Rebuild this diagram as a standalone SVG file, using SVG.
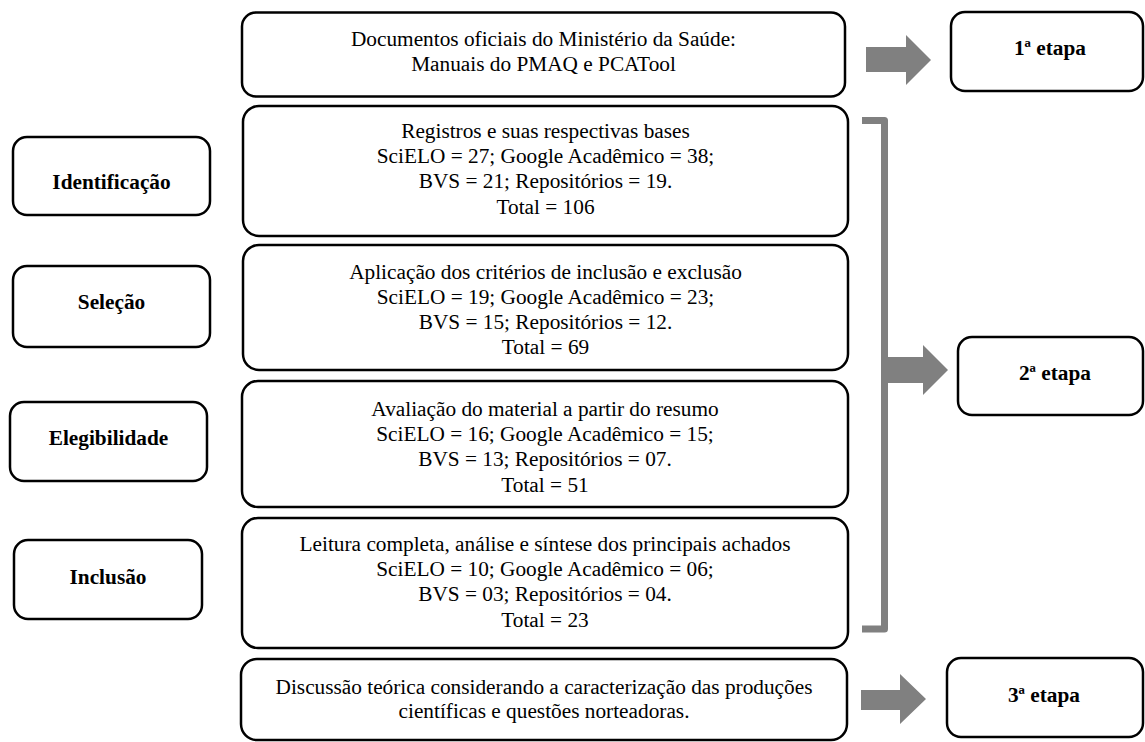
<svg xmlns="http://www.w3.org/2000/svg" width="1145" height="742" viewBox="0 0 1145 742">
<style>
.box{fill:#fff;stroke:#000;stroke-width:2.5}
.t{font-family:"Liberation Serif","Times New Roman",serif;font-size:21.3px;fill:#000;text-anchor:middle}
.b{font-weight:bold}
.arr{fill:#808080}
.br{fill:none;stroke:#808080;stroke-width:7;stroke-linejoin:round}
</style>
<rect width="1145" height="742" fill="#fff"/>
<g id="connectors">
<polygon class="arr" points="866,47 906,47 906,35 931,60 906,85 906,72 866,72"/>
<path class="br" d="M862,120.5 H884.5 V629 H862"/>
<polygon class="arr" points="888,357 923,357 923,345 948,370 923,395 923,383 888,383"/>
<polygon class="arr" points="861,690 900,690 900,674 926,699 900,724 900,710 861,710"/>
</g>
<g id="n-docs"><rect class="box" x="242" y="12.5" width="603" height="84" rx="14"/>
<text class="t" x="543.5" y="45.5">Documentos oficiais do Ministério da Saúde:</text>
<text class="t" x="543.5" y="70.5">Manuais do PMAQ e PCATool</text></g>
<g id="n-etapa1"><rect class="box" x="951" y="12" width="192" height="79" rx="14"/>
<text class="t b" x="1050" y="55">1ª etapa</text></g>
<g id="n-identificacao"><rect class="box" x="13" y="137" width="197" height="78" rx="14"/>
<text class="t b" x="111.5" y="189">Identificação</text></g>
<g id="n-registros"><rect class="box" x="243" y="106" width="605" height="130" rx="16"/>
<text class="t" x="545.5" y="138">Registros e suas respectivas bases</text>
<text class="t" x="545.5" y="163.2">SciELO = 27; Google Acadêmico = 38;</text>
<text class="t" x="545.5" y="188.4">BVS = 21; Repositórios = 19.</text>
<text class="t" x="545.5" y="213.6">Total = 106</text></g>
<g id="n-selecao"><rect class="box" x="13" y="266" width="197" height="81" rx="14"/>
<text class="t b" x="111.5" y="309">Seleção</text></g>
<g id="n-aplicacao"><rect class="box" x="243" y="245" width="605" height="125" rx="16"/>
<text class="t" x="545.5" y="278.5">Aplicação dos critérios de inclusão e exclusão</text>
<text class="t" x="545.5" y="303.7">SciELO = 19; Google Acadêmico = 23;</text>
<text class="t" x="545.5" y="328.9">BVS = 15; Repositórios = 12.</text>
<text class="t" x="545.5" y="354.1">Total = 69</text></g>
<g id="n-etapa2"><rect class="box" x="958" y="337" width="185" height="78" rx="14"/>
<text class="t b" x="1055" y="380">2ª etapa</text></g>
<g id="n-elegibilidade"><rect class="box" x="10" y="402" width="197" height="79" rx="14"/>
<text class="t b" x="108.5" y="445">Elegibilidade</text></g>
<g id="n-avaliacao"><rect class="box" x="242" y="381" width="606" height="126" rx="16"/>
<text class="t" x="545" y="416">Avaliação do material a partir do resumo</text>
<text class="t" x="545" y="441.2">SciELO = 16; Google Acadêmico = 15;</text>
<text class="t" x="545" y="466.4">BVS = 13; Repositórios = 07.</text>
<text class="t" x="545" y="491.6">Total = 51</text></g>
<g id="n-inclusao"><rect class="box" x="14" y="540" width="188" height="79" rx="14"/>
<text class="t b" x="108" y="584">Inclusão</text></g>
<g id="n-leitura"><rect class="box" x="242" y="518" width="606" height="130" rx="16"/>
<text class="t" x="545" y="551">Leitura completa, análise e síntese dos principais achados</text>
<text class="t" x="545" y="576.2">SciELO = 10; Google Acadêmico = 06;</text>
<text class="t" x="545" y="601.4">BVS = 03; Repositórios = 04.</text>
<text class="t" x="545" y="626.6">Total = 23</text></g>
<g id="n-discussao"><rect class="box" x="241" y="659" width="606" height="81" rx="16"/>
<text class="t" x="544" y="693.5">Discussão teórica considerando a caracterização das produções</text>
<text class="t" x="544" y="717.5">científicas e questões norteadoras.</text></g>
<g id="n-etapa3"><rect class="box" x="947" y="658" width="196" height="79" rx="14"/>
<text class="t b" x="1044" y="702">3ª etapa</text></g>
</svg>
